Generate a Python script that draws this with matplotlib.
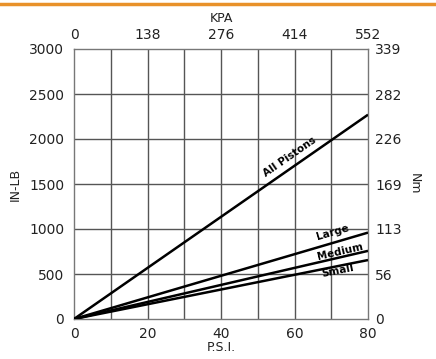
import numpy as np
import matplotlib
matplotlib.use("Agg")
import matplotlib.pyplot as plt
from matplotlib.lines import Line2D

# Data
psi = [0, 80]
series_names = ["All Pistons", "Large", "Medium", "Small"]
all_pistons = [0, 2270]
large = [0, 960]
medium = [0, 757]
small = [0, 655]
psi_ticks = [0, 20, 40, 60, 80]
kpa_labels = ["0", "138", "276", "414", "552"]
inlb_ticks = [0, 500, 1000, 1500, 2000, 2500, 3000]
nm_labels = ["0", "56", "113", "169", "226", "282", "339"]

plt.rcParams['font.family'] = ['DejaVu Sans']

W, H = 436, 359
fig = plt.figure(figsize=(W / 100, H / 100), dpi=100)
ax = fig.add_axes([74 / W, 40 / H, 294 / W, 270 / H])

grid_c = "#555555"
ax.set_xlim(0, 80)
ax.set_ylim(0, 3000)
for x in range(10, 80, 10):
    ax.axvline(x, color=grid_c, lw=1.0, zorder=1)
for y in inlb_ticks[1:-1]:
    ax.axhline(y, color=grid_c, lw=1.0, zorder=1)
for s in ax.spines.values():
    s.set_color("#777777")
    s.set_linewidth(1.0)

for vals in [all_pistons, large, medium, small]:
    ax.plot(psi, vals, color="black", lw=1.8, zorder=3, solid_capstyle="butt")

ax.set_xticks(psi_ticks)
ax.set_xticklabels([str(v) for v in psi_ticks])
ax.set_yticks(inlb_ticks)
ax.set_yticklabels([str(v) for v in inlb_ticks])
ax.tick_params(axis="x", length=0, labelsize=10, pad=6, colors="#222222")
ax.tick_params(axis="y", length=0, labelsize=10, pad=7, colors="#222222")
ax.set_xlabel("P.S.I.", fontsize=9, labelpad=0, color="#222222")
ax.set_ylabel("IN-LB", fontsize=9, labelpad=5, color="#222222")

axr = ax.twinx()
axr.set_ylim(0, 3000)
axr.set_yticks(inlb_ticks)
axr.set_yticklabels(nm_labels)
axr.tick_params(length=0, labelsize=10, pad=5, colors="#222222")
axr.set_ylabel("Nm", fontsize=9, rotation=-90, labelpad=14, color="#222222")
for s in axr.spines.values():
    s.set_visible(False)

axt = ax.twiny()
axt.set_xlim(0, 80)
axt.set_xticks(psi_ticks)
axt.set_xticklabels(kpa_labels)
axt.tick_params(length=0, labelsize=10, pad=5, colors="#222222")
axt.set_xlabel("KPA", fontsize=9, labelpad=4, color="#222222")
for s in axt.spines.values():
    s.set_visible(False)

# Series labels
def angle_for(vals):
    p0 = ax.transData.transform((psi[0], vals[0]))
    p1 = ax.transData.transform((psi[1], vals[1]))
    return np.degrees(np.arctan2(p1[1] - p0[1], p1[0] - p0[0]))

label_pos = {
    "All Pistons": (all_pistons, 58.8, 1800),
    "Large": (large, 70.5, 956),
    "Medium": (medium, 72.4, 744),
    "Small": (small, 71.8, 533),
}
for name in series_names:
    vals, lx, ly = label_pos[name]
    ax.text(lx, ly, name, rotation=angle_for(vals), rotation_mode="anchor",
            ha="center", va="center", fontsize=7.5, fontweight="bold", zorder=4)

# Orange rule at the top
fig.add_artist(Line2D([0, 1], [1 - 4 / H, 1 - 4 / H], color="#E8912A", lw=2.5,
                      transform=fig.transFigure))

fig.savefig("out.png", dpi=100)
